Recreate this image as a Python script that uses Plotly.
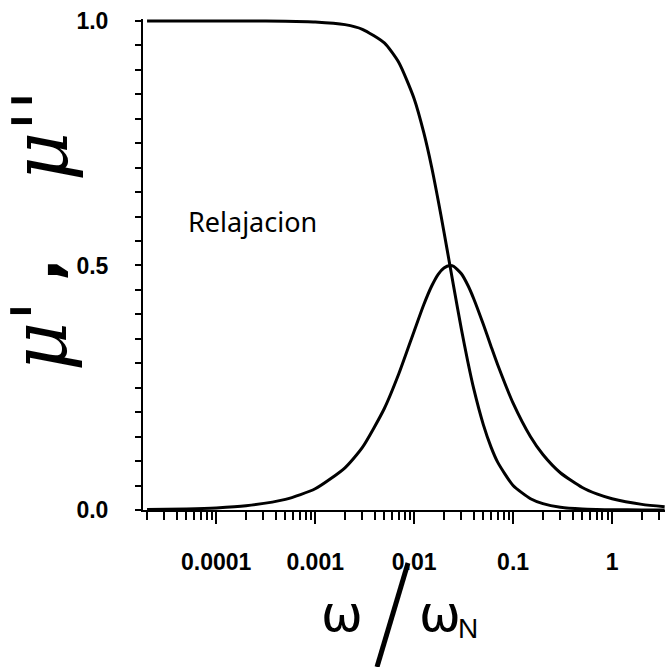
import plotly.graph_objects as go

# omega / omega_N
omega = [2e-5, 5e-5, 1e-4, 2e-4, 5e-4, 1e-3, 2e-3, 3e-3, 5e-3, 7e-3, 0.01, 0.0125,
         0.015, 0.0175, 0.02, 0.023, 0.025, 0.03, 0.035, 0.04, 0.05, 0.06, 0.07,
         0.1, 0.15, 0.2, 0.3, 0.5, 0.7, 1.0, 2.0, 3.4]
# mu' (real part)
mu_real = [1.000, 1.000, 1.000, 1.000, 0.9995, 0.998, 0.9925, 0.983, 0.955, 0.915,
           0.841, 0.772, 0.702, 0.633, 0.569, 0.500, 0.4585, 0.370, 0.3016, 0.248,
           0.1746, 0.128, 0.0974, 0.0502, 0.0230, 0.0131, 0.0058, 0.0021, 0.0011,
           0.0005, 0.0001, 0.0000]
# mu'' (imaginary part)
mu_imag = [0.0009, 0.0022, 0.0043, 0.0087, 0.0217, 0.0434, 0.0863, 0.128, 0.2076,
           0.2785, 0.3657, 0.4196, 0.4575, 0.482, 0.495, 0.500, 0.4984, 0.483, 0.459,
           0.432, 0.3797, 0.334, 0.2965, 0.2185, 0.1498, 0.1135, 0.0762, 0.0459,
           0.0328, 0.023, 0.0115, 0.0068]

x_tickvals = [1e-4, 1e-3, 1e-2, 1e-1, 1]
x_ticktext = ["0.0001", "0.001", "0.01", "0.1", "1"]
y_tickvals = [0.0, 0.5, 1.0]
y_ticktext = ["0.0", "0.5", "1.0"]

W, H = 665, 667
L, R, T, B = 143, 0, 19, 157
PW, PH = W - L - R, H - T - B


def px(x):
    return (x - L) / PW


def py(y):
    return (H - B - y) / PH


fig = go.Figure()
line = dict(color="black", width=3, shape="spline", smoothing=0.6)
fig.add_trace(go.Scatter(x=omega, y=mu_real, mode="lines", line=line, showlegend=False))
fig.add_trace(go.Scatter(x=omega, y=mu_imag, mode="lines", line=line, showlegend=False))

minor_x = [k * 10.0 ** e for e in range(-5, 1) for k in range(2, 10)]

tickfont = dict(family="Liberation Sans Narrow, Liberation Sans, Arial", size=23,
                color="black", weight="bold")

fig.update_xaxes(type="log", range=[-4.74, 0.535], showgrid=False, zeroline=False,
                 showline=True, linecolor="black", linewidth=2,
                 ticks="outside", ticklen=12, tickwidth=2, tickcolor="black",
                 tickvals=x_tickvals, ticktext=x_ticktext, tickfont=tickfont,
                 ticklabelstandoff=18,
                 minor=dict(tickvals=minor_x, ticks="outside", ticklen=8,
                            tickwidth=2, tickcolor="black", showgrid=False))
fig.update_yaxes(range=[0, 1.004], showgrid=False, zeroline=False,
                 showline=True, linecolor="black", linewidth=2,
                 ticks="outside", ticklen=6, tickwidth=2, tickcolor="black",
                 tickvals=y_tickvals, ticktext=y_ticktext, tickfont=tickfont,
                 ticklabelstandoff=22,
                 minor=dict(dtick=0.05, ticks="outside", ticklen=6, tickwidth=2,
                            tickcolor="black", showgrid=False))


def note(x, y, text, font, angle=0):
    return dict(x=px(x), y=py(y), xref="paper", yref="paper", showarrow=False,
                xanchor="center", yanchor="middle", text=text, textangle=angle,
                font=font)


ann = []
# curve label
ann.append(note(252, 221, "Relajacion",
                dict(family="Noto Sans", size=27, color="black")))
# y-axis title (handwritten style)
yfont = dict(family="DejaVu Serif", size=76, color="black", style="italic")
ann.append(note(40, 336, "μ'", yfont, -90))
ann.append(note(38, 270, ",", dict(family="DejaVu Sans", size=60, color="black",
                                   weight="bold"), -90))
ann.append(note(40, 136, "μ''", yfont, -90))
# x-axis title
xfont = dict(family="DejaVu Sans", size=50, color="black")
ann.append(note(342, 614, "ω", xfont))
ann.append(note(440, 614, "ω", xfont))
ann.append(note(468, 628, "N", dict(family="Liberation Sans", size=28, color="black")))

fig.add_shape(type="line", xref="paper", yref="paper",
              x0=px(408), y0=py(563), x1=px(377), y1=py(667),
              line=dict(color="black", width=5))

fig.update_layout(width=W, height=H, margin=dict(l=L, r=R, t=T, b=B, pad=0),
                  plot_bgcolor="white", paper_bgcolor="white", annotations=ann)

fig.write_html("out.html")
